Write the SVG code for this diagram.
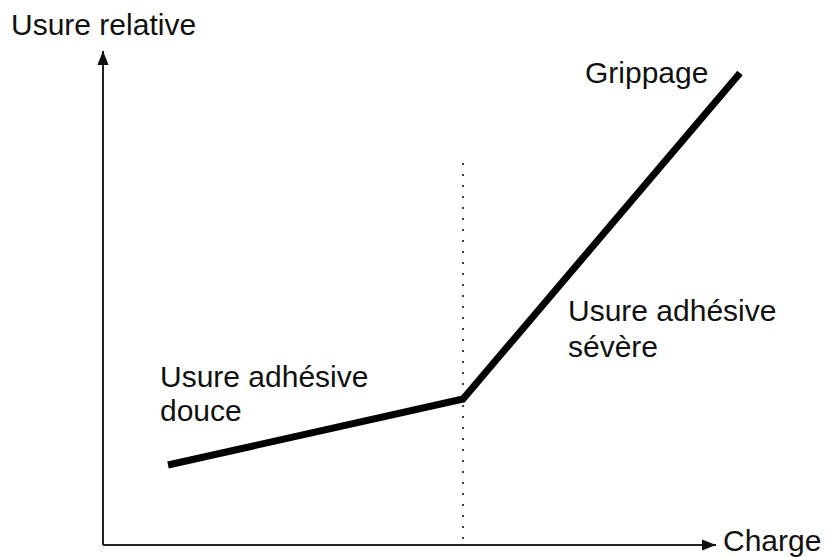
<svg xmlns="http://www.w3.org/2000/svg" width="826" height="557" viewBox="0 0 826 557">
<style>
text{font-family:"Liberation Sans",Arial,sans-serif;font-size:30px;fill:#111}
.axis{stroke:#222;stroke-width:2;fill:none}
.curve{stroke:#000;stroke-width:7;fill:none;stroke-linejoin:miter}
.dot{stroke:#111;stroke-width:1.6;stroke-dasharray:2 9;fill:none}
</style>
<defs>
<marker id="arr" viewBox="0 0 10 10" refX="10" refY="5" markerWidth="7" markerHeight="7" orient="auto" markerUnits="strokeWidth">
<path d="M0,1 L10,5 L0,9 Z" fill="#111"/>
</marker>
</defs>
<rect width="826" height="557" fill="#fff"/>
<g id="connectors">
<path class="axis" d="M103,545 L103,51" marker-end="url(#arr)"/>
<path class="axis" d="M103,545 L716,545" marker-end="url(#arr)"/>
<path class="dot" d="M463,163 L463,545"/>
<path class="curve" d="M168,465 L463,399 L740,73"/>
</g>
<g id="label-y"><text x="11" y="35">Usure relative</text></g>
<g id="label-x"><text x="723" y="551">Charge</text></g>
<g id="label-grippage"><text x="585" y="83">Grippage</text></g>
<g id="label-severe"><text x="568" y="321">Usure adhésive</text><text x="568" y="357">sévère</text></g>
<g id="label-douce"><text x="160" y="387">Usure adhésive</text><text x="160" y="421">douce</text></g>
</svg>
